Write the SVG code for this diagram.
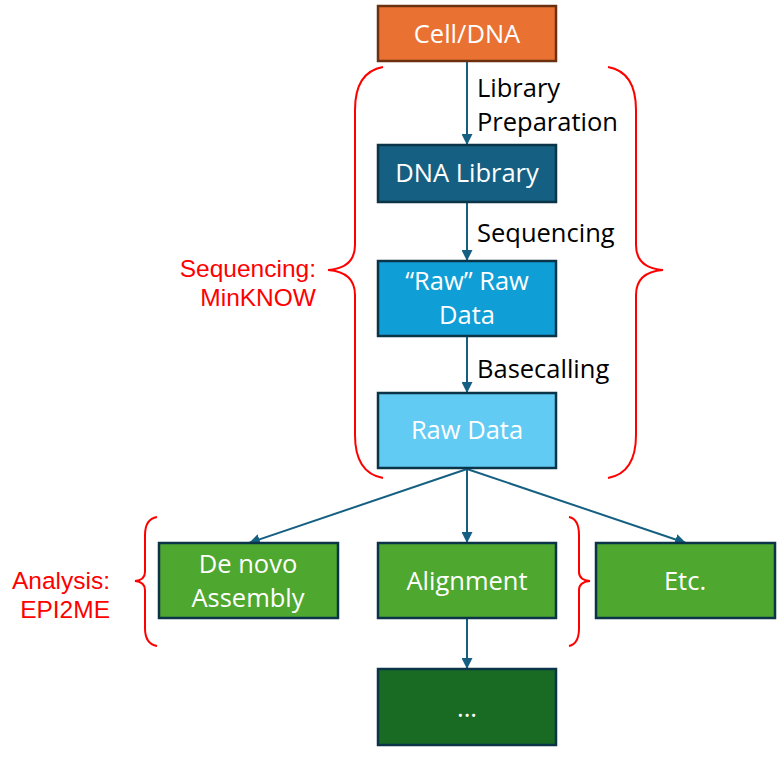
<svg xmlns="http://www.w3.org/2000/svg" width="778" height="762" viewBox="0 0 778 762">
<style>
.box{stroke-width:2.5}
.bt{font-family:"Open Sans","Liberation Sans",sans-serif;font-size:25.5px;fill:#fff;text-anchor:middle}
.lbl{font-family:"Open Sans","Liberation Sans",sans-serif;font-size:25.5px;fill:#000}
.red{font-family:"Liberation Sans",Arial,sans-serif;font-size:24.5px;fill:#ff0000;text-anchor:end}
.conn{stroke:#156082;stroke-width:2;fill:none;marker-end:url(#ah)}
.brace{stroke:#ff0000;stroke-width:2;fill:none}
</style>
<defs>
<marker id="ah" viewBox="0 0 10 10" refX="10" refY="5" markerWidth="5.5" markerHeight="5.5" orient="auto" markerUnits="strokeWidth">
<path d="M0,0 L10,5 L0,10 z" fill="#156082"/>
</marker>
</defs>
<rect width="778" height="762" fill="#fff"/>
<g id="connectors">
<line class="conn" x1="467" y1="62" x2="467" y2="145"/>
<line class="conn" x1="467" y1="203" x2="467" y2="261"/>
<line class="conn" x1="467" y1="337" x2="467" y2="393"/>
<line class="conn" x1="467" y1="469" x2="249" y2="543"/>
<line class="conn" x1="467" y1="469" x2="467" y2="543"/>
<line class="conn" x1="467" y1="469" x2="686" y2="543"/>
<line class="conn" x1="467" y1="619" x2="467" y2="669"/>
<text class="lbl" x="477" y="97">Library</text>
<text class="lbl" x="477" y="131">Preparation</text>
<text class="lbl" x="477" y="242">Sequencing</text>
<text class="lbl" x="477" y="378">Basecalling</text>
</g>
<g id="braces">
<path class="brace" d="M383,67 Q355,72 355,110 L355,245 Q355,268 328,270 Q355,272 355,295 L355,435 Q355,473 383,478"/>
<path class="brace" d="M608,67 Q636,72 636,110 L636,245 Q636,268 663,270 Q636,272 636,295 L636,435 Q636,473 608,478"/>
<path class="brace" d="M157,517 Q145,519 145,535 L145,572 Q145,580 135,581 Q145,582 145,590 L145,628 Q145,644 157,646"/>
<path class="brace" d="M569,517 Q579,519 579,535 L579,572 Q579,580 590,581 Q579,582 579,590 L579,628 Q579,644 569,646"/>
<text class="red" x="316" y="277">Sequencing:</text>
<text class="red" x="316" y="306">MinKNOW</text>
<text class="red" x="110" y="589">Analysis:</text>
<text class="red" x="110" y="618">EPI2ME</text>
</g>
<g id="cell">
<rect class="box" x="378" y="6" width="178" height="55" fill="#E97132" stroke="#6B3010"/>
<text class="bt" x="467" y="43">Cell/DNA</text>
</g>
<g id="dnalib">
<rect class="box" x="378" y="145" width="178" height="57" fill="#156082" stroke="#0B3448"/>
<text class="bt" x="467" y="182">DNA Library</text>
</g>
<g id="rawraw">
<rect class="box" x="378" y="261" width="178" height="75" fill="#0F9ED5" stroke="#0B3448"/>
<text class="bt" x="467" y="290">“Raw” Raw</text>
<text class="bt" x="467" y="324">Data</text>
</g>
<g id="rawdata">
<rect class="box" x="378" y="393" width="178" height="75" fill="#61CBF3" stroke="#0B3448"/>
<text class="bt" x="467" y="439">Raw Data</text>
</g>
<g id="denovo">
<rect class="box" x="159" y="543" width="179" height="75" fill="#4EA72E" stroke="#0B3448"/>
<text class="bt" x="248" y="573">De novo</text>
<text class="bt" x="248" y="607">Assembly</text>
</g>
<g id="alignment">
<rect class="box" x="378" y="543" width="178" height="75" fill="#4EA72E" stroke="#0B3448"/>
<text class="bt" x="467" y="590">Alignment</text>
</g>
<g id="etc">
<rect class="box" x="596" y="543" width="179" height="75" fill="#4EA72E" stroke="#0B3448"/>
<text class="bt" x="685" y="590">Etc.</text>
</g>
<g id="more">
<rect class="box" x="378" y="669" width="178" height="76" fill="#196B24" stroke="#0B3448"/>
<text class="bt" x="467" y="717">...</text>
</g>
</svg>
